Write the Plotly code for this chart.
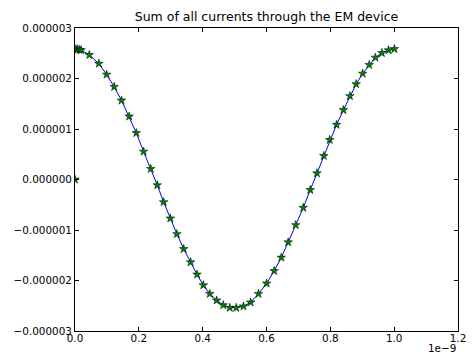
import plotly.graph_objects as go

# time in units of 1e-9 s
time_ns = [0.0, 0.003, 0.008, 0.014, 0.019, 0.0448, 0.0746, 0.0991, 0.1228, 0.1458,
           0.1697, 0.1921, 0.2149, 0.2373, 0.2578, 0.2778, 0.2986, 0.3192, 0.3407,
           0.3622, 0.3824, 0.4021, 0.4223, 0.4438, 0.4644, 0.4850, 0.5052, 0.5279,
           0.5503, 0.5749, 0.6004, 0.6240, 0.6464, 0.6679, 0.6915, 0.7152, 0.7370,
           0.7581, 0.7796, 0.7980, 0.8195, 0.8410, 0.8613, 0.8809, 0.9012, 0.9217,
           0.9411, 0.9616, 0.9822, 1.0006]
# current in units of 1e-6 A
current_uA = [0.0, 2.580, 2.578, 2.570, 2.562, 2.467, 2.295, 2.078, 1.835, 1.565,
              1.249, 0.922, 0.553, 0.211, -0.112, -0.448, -0.770, -1.080, -1.376,
              -1.638, -1.881, -2.092, -2.264, -2.394, -2.487, -2.540, -2.540, -2.512,
              -2.433, -2.264, -2.058, -1.810, -1.545, -1.243, -0.902, -0.559, -0.207,
              0.124, 0.468, 0.784, 1.085, 1.376, 1.652, 1.889, 2.098, 2.270,
              2.414, 2.506, 2.560, 2.585]

x_ticks = [0.0, 0.2, 0.4, 0.6, 0.8, 1.0, 1.2]
x_tick_text = ["0.0", "0.2", "0.4", "0.6", "0.8", "1.0", "1.2"]
y_ticks = [-3, -2, -1, 0, 1, 2, 3]
y_tick_text = ["\u22120.000003", "\u22120.000002", "\u22120.000001", "0.000000",
               "0.000001", "0.000002", "0.000003"]
title_text = "Sum of all currents through the EM device"
offset_text = "1e\u22129"

FONT = "DejaVu Sans"

marker_style = dict(symbol="star", size=6.5, color="#008000",
                    line=dict(color="black", width=0.5))

fig = go.Figure()
# initial sample (hidden line segment runs along the left spine)
fig.add_trace(go.Scatter(
    x=time_ns[:1], y=current_uA[:1], mode="markers",
    marker=marker_style, showlegend=False,
))
fig.add_trace(go.Scatter(
    x=time_ns[1:], y=current_uA[1:], mode="lines+markers",
    line=dict(color="#0000ff", width=1),
    marker=marker_style, showlegend=False,
))

axis_common = dict(
    showline=True, linecolor="black", linewidth=1, mirror="ticks",
    ticks="inside", ticklen=4, tickcolor="black", tickwidth=1,
    showgrid=False, zeroline=False,
    tickfont=dict(family=FONT, size=10.4, color="black"),
)

fig.update_xaxes(range=[0, 1.2], tickvals=x_ticks, ticktext=x_tick_text,
                 ticklabelstandoff=-2, **axis_common)
fig.update_yaxes(range=[-3, 3], tickvals=y_ticks, ticktext=y_tick_text, **axis_common)

fig.update_layout(
    width=476, height=354,
    margin=dict(l=75, r=10, t=28, b=22),
    paper_bgcolor="white", plot_bgcolor="white",
    title=dict(text=title_text, x=0.5, xref="paper", xanchor="center",
               y=1 - 17 / 354, yref="container", yanchor="middle",
               font=dict(family=FONT, size=12.5, color="black")),
    annotations=[dict(text=offset_text, xref="paper", yref="paper", x=1, y=-17.5 / 304,
                      xanchor="right", yanchor="middle", showarrow=False,
                      font=dict(family=FONT, size=10.4, color="black"))],
)

fig.write_html("out.html")
